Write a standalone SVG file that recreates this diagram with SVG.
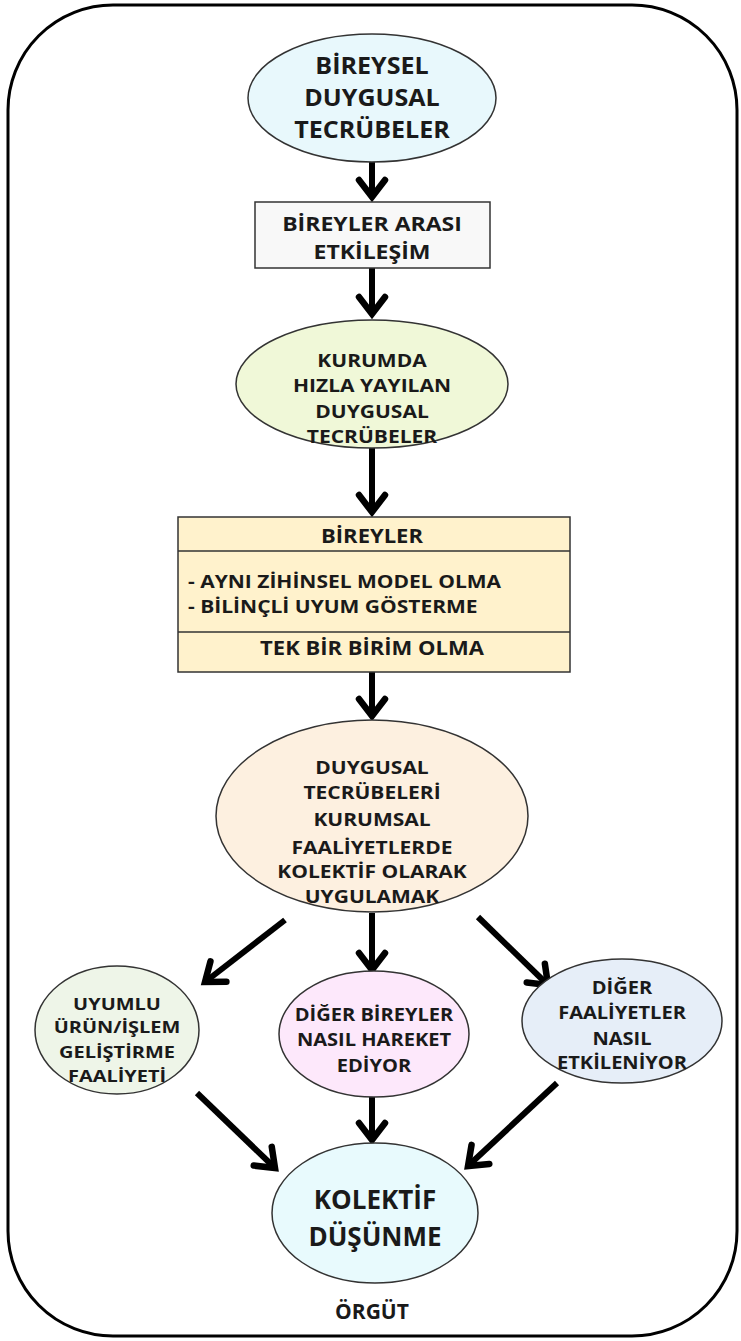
<svg xmlns="http://www.w3.org/2000/svg" width="741" height="1341" viewBox="0 0 741 1341">
  <style>
    .t { font-family: "Open Sans", "Liberation Sans", sans-serif; font-weight: 700; fill: #1a1a1a; text-anchor: middle; }
    .tl { font-family: "Open Sans", "Liberation Sans", sans-serif; font-weight: 700; fill: #1a1a1a; text-anchor: start; }
    .shape { stroke: #333; stroke-width: 1.5; }
    .conn { stroke: #000; stroke-width: 6; fill: none; }
  </style>
  <defs>
    <marker id="arr" viewBox="0 0 32 32" markerWidth="32" markerHeight="32" refX="21" refY="16" orient="auto" markerUnits="userSpaceOnUse" overflow="visible">
      <path d="M4 3 L21 16 L4 29" fill="none" stroke="#000" stroke-width="6.5" stroke-linejoin="miter" stroke-linecap="round"/>
    </marker>
  </defs>
  <rect width="741" height="1341" fill="#fff"/>

  <!-- organisation boundary -->
  <g id="orgut">
    <rect x="8" y="5" width="729" height="1331" rx="105" ry="105" fill="none" stroke="#000" stroke-width="3"/>
    <text class="t" x="372" y="1319" font-size="21">ÖRGÜT</text>
  </g>

  <!-- connectors -->
  <g id="connectors">
    <path class="conn" d="M372 162 L372 197" marker-end="url(#arr)"/>
    <path class="conn" d="M372 268 L372 314" marker-end="url(#arr)"/>
    <path class="conn" d="M372 448 L372 512" marker-end="url(#arr)"/>
    <path class="conn" d="M372 672 L372 716" marker-end="url(#arr)"/>
    <path class="conn" d="M285 920 L205 982" marker-end="url(#arr)"/>
    <path class="conn" d="M372 913 L372 970" marker-end="url(#arr)"/>
    <path class="conn" d="M478 917 L548 985" marker-end="url(#arr)"/>
    <path class="conn" d="M197 1093 L275 1168" marker-end="url(#arr)"/>
    <path class="conn" d="M372 1097 L372 1140" marker-end="url(#arr)"/>
    <path class="conn" d="M557 1083 L468 1166" marker-end="url(#arr)"/>
  </g>

  <g id="node-bireysel">
    <ellipse class="shape" cx="372" cy="98" rx="124" ry="64" fill="#e8f8fc"/>
    <g transform="translate(372 0) scale(1.09 1)" font-size="23">
      <text class="t" x="0" y="74">BİREYSEL</text>
      <text class="t" x="0" y="106">DUYGUSAL</text>
      <text class="t" x="0" y="138">TECRÜBELER</text>
    </g>
  </g>

  <g id="node-etkilesim">
    <rect class="shape" x="255" y="202" width="235" height="66" fill="#f8f8f8"/>
    <g transform="translate(372 0) scale(1.15 1)" font-size="20">
      <text class="t" x="0" y="231">BİREYLER ARASI</text>
      <text class="t" x="0" y="259">ETKİLEŞİM</text>
    </g>
  </g>

  <g id="node-kurumda">
    <ellipse class="shape" cx="372" cy="384" rx="136" ry="64" fill="#f0f8d8"/>
    <g transform="translate(372 0) scale(1.167 1)" font-size="18">
      <text class="t" x="0" y="367.5">KURUMDA</text>
      <text class="t" x="0" y="392.5">HIZLA YAYILAN</text>
      <text class="t" x="0" y="418.5">DUYGUSAL</text>
      <text class="t" x="0" y="443.5">TECRÜBELER</text>
    </g>
  </g>

  <g id="node-bireyler">
    <rect class="shape" x="178" y="517" width="392" height="155" fill="#fff2cc"/>
    <line class="shape" x1="178" y1="551" x2="570" y2="551"/>
    <line class="shape" x1="178" y1="632" x2="570" y2="632"/>
    <g transform="translate(372 0) scale(1.1 1)" font-size="20">
      <text class="t" x="0" y="543">BİREYLER</text>
      <text class="t" x="0" y="655">TEK BİR BİRİM OLMA</text>
    </g>
    <g transform="translate(188 0) scale(1.167 1)" font-size="18">
      <text class="tl" x="0" y="588.5">- AYNI ZİHİNSEL MODEL OLMA</text>
      <text class="tl" x="0" y="613.5">- BİLİNÇLİ UYUM GÖSTERME</text>
    </g>
  </g>

  <g id="node-uygulamak">
    <ellipse class="shape" cx="372" cy="816" rx="156" ry="96" fill="#fdf0e0"/>
    <g transform="translate(372 0) scale(1.2 1)" font-size="17.5">
      <text class="t" x="0" y="774">DUYGUSAL</text>
      <text class="t" x="0" y="799">TECRÜBELERİ</text>
      <text class="t" x="0" y="826">KURUMSAL</text>
      <text class="t" x="0" y="854">FAALİYETLERDE</text>
      <text class="t" x="0" y="878">KOLEKTİF OLARAK</text>
      <text class="t" x="0" y="903">UYGULAMAK</text>
    </g>
  </g>

  <g id="node-uyumlu">
    <ellipse class="shape" cx="117" cy="1030" rx="82" ry="64" fill="#eef5e8"/>
    <g transform="translate(117 0) scale(1.21 1)" font-size="16.5">
      <text class="t" x="0" y="1010">UYUMLU</text>
      <text class="t" x="0" y="1033">ÜRÜN/İŞLEM</text>
      <text class="t" x="0" y="1058">GELİŞTİRME</text>
      <text class="t" x="0" y="1082">FAALİYETİ</text>
    </g>
  </g>

  <g id="node-diger-bireyler">
    <ellipse class="shape" cx="374" cy="1034" rx="95" ry="63" fill="#fde8fb"/>
    <g transform="translate(374 0) scale(1.18 1)" font-size="17">
      <text class="t" x="0" y="1021">DİĞER BİREYLER</text>
      <text class="t" x="0" y="1046">NASIL HAREKET</text>
      <text class="t" x="0" y="1072">EDİYOR</text>
    </g>
  </g>

  <g id="node-diger-faaliyetler">
    <ellipse class="shape" cx="622" cy="1021" rx="100" ry="62" fill="#e6eef8"/>
    <g transform="translate(622 0) scale(1.18 1)" font-size="17">
      <text class="t" x="0" y="994">DİĞER</text>
      <text class="t" x="0" y="1019">FAALİYETLER</text>
      <text class="t" x="0" y="1045">NASIL</text>
      <text class="t" x="0" y="1069">ETKİLENİYOR</text>
    </g>
  </g>

  <g id="node-kolektif">
    <ellipse class="shape" cx="375" cy="1213" rx="103" ry="70" fill="#e8fafd"/>
    <text class="t" x="375" y="1209" font-size="26">KOLEKTİF</text>
    <text class="t" x="375" y="1246" font-size="26">DÜŞÜNME</text>
  </g>
</svg>
